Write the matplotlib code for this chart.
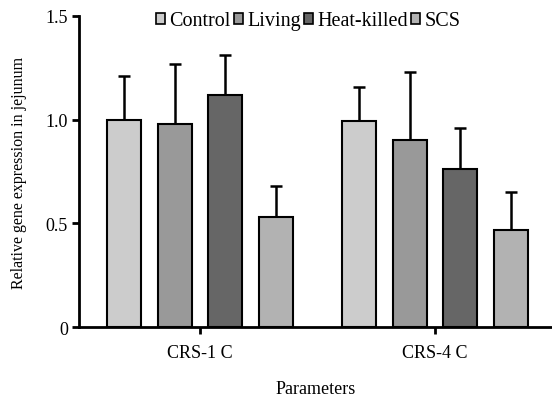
import matplotlib
matplotlib.use("Agg")
import matplotlib.pyplot as plt
import numpy as np

# values
groups = ["CRS-1 C", "CRS-4 C"]
series = ["Control", "Living", "Heat-killed", "SCS"]
colors = ["#cccccc", "#999999", "#666666", "#b2b2b2"]

control = [1.00, 0.995]
living = [0.98, 0.90]
heat_killed = [1.12, 0.76]
scs = [0.53, 0.47]

control_err = [0.21, 0.16]
living_err = [0.29, 0.33]
heat_killed_err = [0.19, 0.20]
scs_err = [0.15, 0.18]

yticks = [0, 0.5, 1.0, 1.5]
ytick_labels = ["0", "0.5", "1.0", "1.5"]

plt.rcParams["font.family"] = ["Liberation Serif", "DejaVu Serif"]

fig = plt.figure(figsize=(5.52, 4.02), dpi=100)
ax = fig.add_axes([0.143, 0.184, 0.857, 0.774])

x = np.arange(len(groups))
width = 0.145
step = 0.215
vals = [control, living, heat_killed, scs]
errs = [control_err, living_err, heat_killed_err, scs_err]

handles = []
for i, (v, e, c, name) in enumerate(zip(vals, errs, colors, series)):
    pos = x + (i - 1.5) * step
    b = ax.bar(pos, v, width, color=c, edgecolor="black", linewidth=1.5,
               label=name, zorder=2)
    ax.errorbar(pos, v, yerr=[np.zeros(len(e)), e], fmt="none",
                ecolor="black", elinewidth=1.8, capsize=4.5, capthick=1.8,
                zorder=1)
    handles.append(b)

ax.set_xlim(-0.515, 1.498)
ax.set_ylim(0, 1.5)
ax.set_yticks(yticks)
ax.set_yticklabels(ytick_labels)
ax.set_xticks(x)
ax.set_xticklabels(groups)

for s in ["top", "right"]:
    ax.spines[s].set_visible(False)
for s in ["left", "bottom"]:
    ax.spines[s].set_linewidth(2)
ax.tick_params(axis="both", width=2, length=5, labelsize=13, pad=3)
ax.tick_params(axis="x", pad=7)

ax.set_ylabel("Relative gene expression in jejunum", fontsize=11.5, labelpad=13)
ax.set_xlabel("Parameters", fontsize=13, labelpad=14)

leg = ax.legend(handles=handles, loc="center left", bbox_to_anchor=(0.163, 0.984),
                ncol=4, frameon=False, fontsize=14.5, handlelength=0.45,
                handleheight=0.45, handletextpad=0.22, columnspacing=0.15,
                borderaxespad=0, borderpad=0)
for p in leg.get_patches():
    p.set_linewidth(1.2)

fig.savefig("out.png", dpi=100)
